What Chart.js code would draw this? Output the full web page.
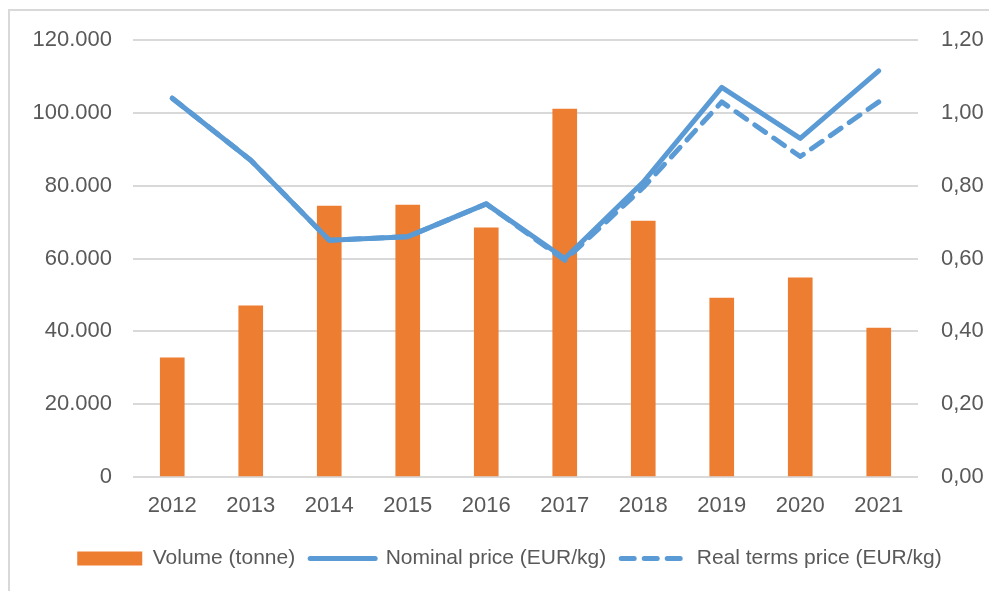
<!DOCTYPE html>
<html>
<head>
<meta charset="utf-8">
<script src="https://cdn.jsdelivr.net/npm/chart.js@4.4.0/dist/chart.umd.min.js"></script>
<style>
  html, body { margin: 0; padding: 0; background: #fff; }
  #wrap { position: relative; width: 989px; height: 591px; overflow: hidden; }
  #frame { position: absolute; left: 8px; top: 9px; width: 1000px; height: 620px; border: 2px solid #d9d9d9; box-sizing: border-box; }
  #wrap canvas { position: absolute; left: 0; top: 0; }
</style>
</head>
<body>
<div id="wrap">
  <div id="frame"></div>
  <canvas id="chart" width="989" height="591"></canvas>
</div>
<script>
const years = ['2012', '2013', '2014', '2015', '2016', '2017', '2018', '2019', '2020', '2021'];
const volumeTonnes = [32700, 47000, 74400, 74700, 68400, 101000, 70300, 49100, 54700, 40900];
const nominalPrice = [1.04, 0.87, 0.65, 0.66, 0.75, 0.60, 0.81, 1.07, 0.93, 1.115];
const realPrice = [1.04, 0.87, 0.65, 0.66, 0.75, 0.595, 0.795, 1.03, 0.88, 1.03];
const volumeTicks = [0, 20000, 40000, 60000, 80000, 100000, 120000];
const priceTicks = [0, 0.2, 0.4, 0.6, 0.8, 1.0, 1.2];

const textColor = '#595959';
const gridColor = '#d9d9d9';
const orange = '#ED7D31';
const blue = '#5B9BD5';

function formatVolume(v) {
    return v.toLocaleString('de-DE');
}

function formatPrice(v) {
    return v.toFixed(2).replace('.', ',');
}

const ctx = document.getElementById('chart').getContext('2d');

new Chart(ctx, {
    data: {
        labels: years,
        datasets: [
            {
                type: 'line',
                label: 'Nominal price (EUR/kg)',
                data: nominalPrice,
                yAxisID: 'yPrice',
                borderColor: blue,
                backgroundColor: blue,
                borderWidth: 5,
                borderCapStyle: 'round',
                borderJoinStyle: 'round',
                pointRadius: 0,
                tension: 0,
                order: 1
            },
            {
                type: 'line',
                label: 'Real terms price (EUR/kg)',
                data: realPrice,
                yAxisID: 'yPrice',
                borderColor: blue,
                backgroundColor: blue,
                borderWidth: 5,
                borderDash: [13, 10],
                borderCapStyle: 'round',
                borderJoinStyle: 'round',
                pointRadius: 0,
                tension: 0,
                order: 2
            },
            {
                type: 'bar',
                label: 'Volume (tonne)',
                data: volumeTonnes,
                yAxisID: 'yVolume',
                backgroundColor: orange,
                barThickness: 24,
                order: 3
            }
        ]
    },
    options: {
        responsive: false,
        animation: false,
        devicePixelRatio: 1,
        layout: { padding: { left: 30, right: 0, top: 40, bottom: 12 } },
        scales: {
            x: {
                grid: { display: false, drawTicks: false },
                border: { display: false },
                ticks: {
                    color: textColor,
                    font: { family: 'Liberation Sans', size: 22 },
                    padding: 16,
                    maxRotation: 0
                },
                afterFit: s => { s.height = 56; }
            },
            yVolume: {
                position: 'left',
                min: 0,
                max: 120000,
                grid: { color: gridColor, lineWidth: 2, drawTicks: false },
                border: { display: false },
                ticks: {
                    color: textColor,
                    font: { family: 'Liberation Sans', size: 22 },
                    padding: 21,
                    callback: v => formatVolume(v)
                },
                afterBuildTicks: s => { s.ticks = volumeTicks.map(v => ({ value: v })); },
                afterFit: s => { s.width = 103; }
            },
            yPrice: {
                position: 'right',
                min: 0,
                max: 1.2,
                grid: { display: false, drawTicks: false },
                border: { display: false },
                ticks: {
                    color: textColor,
                    font: { family: 'Liberation Sans', size: 22 },
                    padding: 23,
                    callback: v => formatPrice(v)
                },
                afterBuildTicks: s => { s.ticks = priceTicks.map(v => ({ value: v })); },
                afterFit: s => { s.width = 71; }
            }
        },
        plugins: {
            tooltip: { enabled: false },
            legend: {
                position: 'bottom',
                labels: {
                    color: textColor,
                    font: { family: 'Liberation Sans', size: 21 },
                    usePointStyle: true,
                    pointStyleWidth: 65,
                    boxHeight: 14,
                    padding: 15,
                    sort: (a, b) => b.datasetIndex === 2 ? 1 : (a.datasetIndex === 2 ? -1 : a.datasetIndex - b.datasetIndex),
                    generateLabels: chart => {
                        const items = Chart.defaults.plugins.legend.labels.generateLabels(chart);
                        return items.map(it => {
                            const ds = chart.data.datasets[it.datasetIndex];
                            if (ds.type === 'line') {
                                it.pointStyle = 'line';
                                it.lineWidth = 5;
                                it.lineCap = 'round';
                                it.lineDash = ds.borderDash || [];
                            } else {
                                it.pointStyle = 'rect';
                                it.lineWidth = 0;
                            }
                            return it;
                        });
                    }
                }
            }
        }
    }
});
</script>
</body>
</html>
